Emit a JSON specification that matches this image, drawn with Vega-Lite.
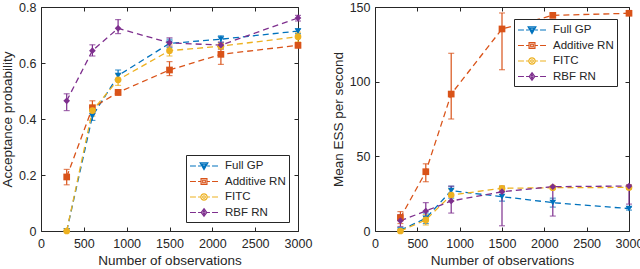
{
  "$schema": "https://vega.github.io/schema/vega-lite/v6.json",
  "padding": {"left": 0, "top": 0, "right": 2, "bottom": 0},
  "background": "white",
  "config": {
    "font": "Liberation Sans",
    "view": {"stroke": "#262626", "strokeWidth": 1},
    "axis": {
      "domain": false, "grid": false, "offset": -4, "labelFlush": false,
      "tickColor": "#262626", "tickSize": 4, "labelPadding": 5,
      "labelColor": "#262626", "labelFontSize": 12.5, "labelFont": "Liberation Sans",
      "titleColor": "#262626", "titleFontSize": 13.5, "titleFont": "Liberation Sans", "titleFontWeight": "normal", "titlePadding": 4
    },
    "axisBottom": {"labelPadding": 6},
    "legend": {
      "fillColor": "white", "strokeColor": "#262626", "padding": 3,
      "labelFontSize": 11.5, "labelColor": "#262626", "labelFont": "Liberation Sans",
      "rowPadding": 1.5, "symbolSize": 196, "symbolStrokeWidth": 1.2,
      "symbolOffset": 7, "labelOffset": 13, "symbolOpacity": 1
    }
  },
  "datasets": {
    "d": [
      {"panel": "acc", "s": "Full GP", "x": 300, "y": 0.0, "lo": 0.0, "hi": 0.0},
      {"panel": "acc", "s": "Full GP", "x": 600, "y": 0.41, "lo": 0.395, "hi": 0.43},
      {"panel": "acc", "s": "Full GP", "x": 900, "y": 0.555, "lo": 0.54, "hi": 0.575},
      {"panel": "acc", "s": "Full GP", "x": 1500, "y": 0.67, "lo": 0.655, "hi": 0.685},
      {"panel": "acc", "s": "Full GP", "x": 2100, "y": 0.685, "lo": 0.673, "hi": 0.697},
      {"panel": "acc", "s": "Full GP", "x": 3000, "y": 0.714, "lo": 0.705, "hi": 0.722},
      {"panel": "acc", "s": "Additive RN", "x": 300, "y": 0.193, "lo": 0.165, "hi": 0.22},
      {"panel": "acc", "s": "Additive RN", "x": 600, "y": 0.44, "lo": 0.42, "hi": 0.465},
      {"panel": "acc", "s": "Additive RN", "x": 900, "y": 0.495, "lo": 0.485, "hi": 0.505},
      {"panel": "acc", "s": "Additive RN", "x": 1500, "y": 0.575, "lo": 0.555, "hi": 0.605},
      {"panel": "acc", "s": "Additive RN", "x": 2100, "y": 0.631, "lo": 0.595, "hi": 0.66},
      {"panel": "acc", "s": "Additive RN", "x": 3000, "y": 0.663, "lo": 0.655, "hi": 0.67},
      {"panel": "acc", "s": "FITC", "x": 300, "y": 0.0, "lo": 0.0, "hi": 0.0},
      {"panel": "acc", "s": "FITC", "x": 600, "y": 0.43, "lo": 0.41, "hi": 0.45},
      {"panel": "acc", "s": "FITC", "x": 900, "y": 0.54, "lo": 0.52, "hi": 0.56},
      {"panel": "acc", "s": "FITC", "x": 1500, "y": 0.644, "lo": 0.625, "hi": 0.665},
      {"panel": "acc", "s": "FITC", "x": 2100, "y": 0.66, "lo": 0.65, "hi": 0.67},
      {"panel": "acc", "s": "FITC", "x": 3000, "y": 0.694, "lo": 0.675, "hi": 0.71},
      {"panel": "acc", "s": "RBF RN", "x": 300, "y": 0.465, "lo": 0.43, "hi": 0.49},
      {"panel": "acc", "s": "RBF RN", "x": 600, "y": 0.644, "lo": 0.625, "hi": 0.665},
      {"panel": "acc", "s": "RBF RN", "x": 900, "y": 0.724, "lo": 0.705, "hi": 0.755},
      {"panel": "acc", "s": "RBF RN", "x": 1500, "y": 0.672, "lo": 0.66, "hi": 0.69},
      {"panel": "acc", "s": "RBF RN", "x": 2100, "y": 0.664, "lo": 0.65, "hi": 0.675},
      {"panel": "acc", "s": "RBF RN", "x": 3000, "y": 0.761, "lo": 0.75, "hi": 0.77},
      {"panel": "ess", "s": "Full GP", "x": 300, "y": 0.5, "lo": 0.0, "hi": 1.0},
      {"panel": "ess", "s": "Full GP", "x": 600, "y": 8.5, "lo": 5, "hi": 12},
      {"panel": "ess", "s": "Full GP", "x": 900, "y": 27, "lo": 22, "hi": 30},
      {"panel": "ess", "s": "Full GP", "x": 1500, "y": 23, "lo": 20, "hi": 28},
      {"panel": "ess", "s": "Full GP", "x": 2100, "y": 19, "lo": 16, "hi": 22},
      {"panel": "ess", "s": "Full GP", "x": 3000, "y": 15, "lo": 14, "hi": 16},
      {"panel": "ess", "s": "Additive RN", "x": 300, "y": 8.9, "lo": 5, "hi": 13},
      {"panel": "ess", "s": "Additive RN", "x": 600, "y": 39.7, "lo": 33, "hi": 45},
      {"panel": "ess", "s": "Additive RN", "x": 900, "y": 91.7, "lo": 75, "hi": 119},
      {"panel": "ess", "s": "Additive RN", "x": 1500, "y": 135.3, "lo": 108, "hi": 146},
      {"panel": "ess", "s": "Additive RN", "x": 2100, "y": 144.4, "lo": 143, "hi": 145.5},
      {"panel": "ess", "s": "Additive RN", "x": 3000, "y": 145.8, "lo": 145, "hi": 146.5},
      {"panel": "ess", "s": "FITC", "x": 300, "y": 0.0, "lo": 0.0, "hi": 1.0},
      {"panel": "ess", "s": "FITC", "x": 600, "y": 7.4, "lo": 4, "hi": 11},
      {"panel": "ess", "s": "FITC", "x": 900, "y": 24.1, "lo": 20, "hi": 28},
      {"panel": "ess", "s": "FITC", "x": 1500, "y": 28.6, "lo": 27, "hi": 30},
      {"panel": "ess", "s": "FITC", "x": 2100, "y": 29, "lo": 28, "hi": 30},
      {"panel": "ess", "s": "FITC", "x": 3000, "y": 29.2, "lo": 28, "hi": 30},
      {"panel": "ess", "s": "RBF RN", "x": 300, "y": 6.9, "lo": 3, "hi": 11},
      {"panel": "ess", "s": "RBF RN", "x": 600, "y": 13.4, "lo": 8, "hi": 19},
      {"panel": "ess", "s": "RBF RN", "x": 900, "y": 20.1, "lo": 12, "hi": 30},
      {"panel": "ess", "s": "RBF RN", "x": 1500, "y": 26.3, "lo": 3.5, "hi": 30},
      {"panel": "ess", "s": "RBF RN", "x": 2100, "y": 29.7, "lo": 10, "hi": 30},
      {"panel": "ess", "s": "RBF RN", "x": 3000, "y": 30.1, "lo": 18, "hi": 31}
    ]
  },
  "spacing": 17,
  "resolve": {
    "legend": {"color": "independent", "shape": "independent"},
    "scale": {"color": "independent", "shape": "independent"}
  },
  "hconcat": [
    {
      "width": 257, "height": 224,
      "data": {"name": "d"},
      "transform": [{"filter": "datum.panel === 'acc'"}],
      "resolve": {"axis": {"x": "independent", "y": "independent"}, "scale": {"shape": "independent", "color": "independent"}},
      "layer": [
        {
          "mark": {"type": "errorbar", "ticks": {"size": 6}, "thickness": 1.2},
          "encoding": {
            "x": {"field": "x", "type": "quantitative", "scale": {"domain": [0, 3000], "nice": false},
                  "axis": {"values": [0, 500, 1000, 1500, 2000, 2500, 3000], "format": "d", "title": "Number of observations"}},
            "y": {"field": "lo", "type": "quantitative", "scale": {"domain": [0, 0.8], "nice": false},
                  "axis": {"values": [0, 0.2, 0.4, 0.6, 0.8], "labelExpr": "datum.value == 0 ? '0' : format(datum.value, '.1f')", "title": "Acceptance probability"}},
            "y2": {"field": "hi"},
            "color": {"field": "s", "type": "nominal",
                      "scale": {"domain": ["Full GP", "Additive RN", "FITC", "RBF RN"], "range": ["#0072BD", "#D95319", "#EDB120", "#7E2F8E"]},
                      "legend": null}
          }
        },
        {
          "mark": {"type": "line", "strokeDash": [6, 4], "strokeWidth": 1.3},
          "encoding": {
            "x": {"field": "x", "type": "quantitative", "axis": {"orient": "top", "values": [0, 500, 1000, 1500, 2000, 2500, 3000], "labels": false, "title": null}},
            "y": {"field": "y", "type": "quantitative", "axis": {"orient": "right", "values": [0, 0.2, 0.4, 0.6, 0.8], "labels": false, "title": null}},
            "color": {"field": "s", "type": "nominal", "legend": null,
                      "scale": {"domain": ["Full GP", "Additive RN", "FITC", "RBF RN"], "range": ["#0072BD", "#D95319", "#EDB120", "#7E2F8E"]}}
          }
        },
        {
          "mark": {"type": "point", "filled": true, "size": 45, "opacity": 1},
          "encoding": {
            "x": {"field": "x", "type": "quantitative", "axis": null},
            "y": {"field": "y", "type": "quantitative", "axis": null},
            "color": {"field": "s", "type": "nominal", "legend": null,
                      "scale": {"domain": ["Full GP", "Additive RN", "FITC", "RBF RN"], "range": ["#0072BD", "#D95319", "#EDB120", "#7E2F8E"]}},
            "shape": {"field": "s", "type": "nominal",
                      "scale": {"domain": ["Full GP", "Additive RN", "FITC", "RBF RN"], "range": ["triangle-down", "square", "circle", "diamond"]},
                      "legend": null}
          }
        },
        {
          "transform": [{"filter": "false"}],
          "mark": {"type": "point", "filled": false, "strokeWidth": 1.2},
          "encoding": {
            "x": {"field": "x", "type": "quantitative", "axis": null},
            "y": {"field": "y", "type": "quantitative", "axis": null},
            "color": {"field": "s", "type": "nominal",
                      "scale": {"domain": ["Full GP", "Additive RN", "FITC", "RBF RN"], "range": ["#0072BD", "#D95319", "#EDB120", "#7E2F8E"]},
                      "legend": {"title": null, "orient": "bottom-right", "offset": 9}},
            "shape": {"field": "s", "type": "nominal",
                      "scale": {"domain": ["Full GP", "Additive RN", "FITC", "RBF RN"],
                                "range": [
                                  "M-2,0L-1.15,0M-0.85,0L-0.45,0M0.45,0L0.85,0M1.15,0L2,0M-0.55,-0.45L0.55,-0.45L0,0.5ZM-0.25,-0.25L0.25,-0.25L0,0.15Z",
                                  "M-2,0L-1.15,0M-0.85,0L-0.45,0M0.45,0L0.85,0M1.15,0L2,0M-0.42,-0.42L0.42,-0.42L0.42,0.42L-0.42,0.42ZM-0.18,-0.18L0.18,-0.18L0.18,0.18L-0.18,0.18Z",
                                  "M-2,0L-1.15,0M-0.85,0L-0.45,0M0.45,0L0.85,0M1.15,0L2,0M-0.45,0A0.45,0.45 0 1,0 0.45,0A0.45,0.45 0 1,0 -0.45,0ZM-0.18,0A0.18,0.18 0 1,0 0.18,0A0.18,0.18 0 1,0 -0.18,0Z",
                                  "M-2,0L-1.15,0M-0.85,0L-0.45,0M0.45,0L0.85,0M1.15,0L2,0M0,-0.55L0.4,0L0,0.55L-0.4,0ZM0,-0.25L0.15,0L0,0.25L-0.15,0Z"
                                ]},
                      "legend": {"title": null, "orient": "bottom-right", "offset": 9}}
          }
        }
      ]
    },
    {
      "width": 254, "height": 224,
      "data": {"name": "d"},
      "transform": [{"filter": "datum.panel === 'ess'"}],
      "resolve": {"axis": {"x": "independent", "y": "independent"}, "scale": {"shape": "independent", "color": "independent"}},
      "layer": [
        {
          "mark": {"type": "errorbar", "ticks": {"size": 6}, "thickness": 1.2},
          "encoding": {
            "x": {"field": "x", "type": "quantitative", "scale": {"domain": [0, 3000], "nice": false},
                  "axis": {"values": [0, 500, 1000, 1500, 2000, 2500, 3000], "format": "d", "title": "Number of observations"}},
            "y": {"field": "lo", "type": "quantitative", "scale": {"domain": [0, 150], "nice": false},
                  "axis": {"values": [0, 50, 100, 150], "format": "d", "title": "Mean ESS per second"}},
            "y2": {"field": "hi"},
            "color": {"field": "s", "type": "nominal",
                      "scale": {"domain": ["Full GP", "Additive RN", "FITC", "RBF RN"], "range": ["#0072BD", "#D95319", "#EDB120", "#7E2F8E"]},
                      "legend": null}
          }
        },
        {
          "mark": {"type": "line", "strokeDash": [6, 4], "strokeWidth": 1.3},
          "encoding": {
            "x": {"field": "x", "type": "quantitative", "axis": {"orient": "top", "values": [0, 500, 1000, 1500, 2000, 2500, 3000], "labels": false, "title": null}},
            "y": {"field": "y", "type": "quantitative", "axis": {"orient": "right", "values": [0, 50, 100, 150], "labels": false, "title": null}},
            "color": {"field": "s", "type": "nominal", "legend": null,
                      "scale": {"domain": ["Full GP", "Additive RN", "FITC", "RBF RN"], "range": ["#0072BD", "#D95319", "#EDB120", "#7E2F8E"]}}
          }
        },
        {
          "mark": {"type": "point", "filled": true, "size": 45, "opacity": 1},
          "encoding": {
            "x": {"field": "x", "type": "quantitative", "axis": null},
            "y": {"field": "y", "type": "quantitative", "axis": null},
            "color": {"field": "s", "type": "nominal", "legend": null,
                      "scale": {"domain": ["Full GP", "Additive RN", "FITC", "RBF RN"], "range": ["#0072BD", "#D95319", "#EDB120", "#7E2F8E"]}},
            "shape": {"field": "s", "type": "nominal",
                      "scale": {"domain": ["Full GP", "Additive RN", "FITC", "RBF RN"], "range": ["triangle-down", "square", "circle", "diamond"]},
                      "legend": null}
          }
        },
        {
          "transform": [{"filter": "false"}],
          "mark": {"type": "point", "filled": false, "strokeWidth": 1.2},
          "encoding": {
            "x": {"field": "x", "type": "quantitative", "axis": null},
            "y": {"field": "y", "type": "quantitative", "axis": null},
            "color": {"field": "s", "type": "nominal",
                      "scale": {"domain": ["Full GP", "Additive RN", "FITC", "RBF RN"], "range": ["#0072BD", "#D95319", "#EDB120", "#7E2F8E"]},
                      "legend": {"title": null, "orient": "top-right", "offset": 12}},
            "shape": {"field": "s", "type": "nominal",
                      "scale": {"domain": ["Full GP", "Additive RN", "FITC", "RBF RN"],
                                "range": [
                                  "M-2,0L-1.15,0M-0.85,0L-0.45,0M0.45,0L0.85,0M1.15,0L2,0M-0.55,-0.45L0.55,-0.45L0,0.5ZM-0.25,-0.25L0.25,-0.25L0,0.15Z",
                                  "M-2,0L-1.15,0M-0.85,0L-0.45,0M0.45,0L0.85,0M1.15,0L2,0M-0.42,-0.42L0.42,-0.42L0.42,0.42L-0.42,0.42ZM-0.18,-0.18L0.18,-0.18L0.18,0.18L-0.18,0.18Z",
                                  "M-2,0L-1.15,0M-0.85,0L-0.45,0M0.45,0L0.85,0M1.15,0L2,0M-0.45,0A0.45,0.45 0 1,0 0.45,0A0.45,0.45 0 1,0 -0.45,0ZM-0.18,0A0.18,0.18 0 1,0 0.18,0A0.18,0.18 0 1,0 -0.18,0Z",
                                  "M-2,0L-1.15,0M-0.85,0L-0.45,0M0.45,0L0.85,0M1.15,0L2,0M0,-0.55L0.4,0L0,0.55L-0.4,0ZM0,-0.25L0.15,0L0,0.25L-0.15,0Z"
                                ]},
                      "legend": {"title": null, "orient": "top-right", "offset": 12}}
          }
        }
      ]
    }
  ]
}
